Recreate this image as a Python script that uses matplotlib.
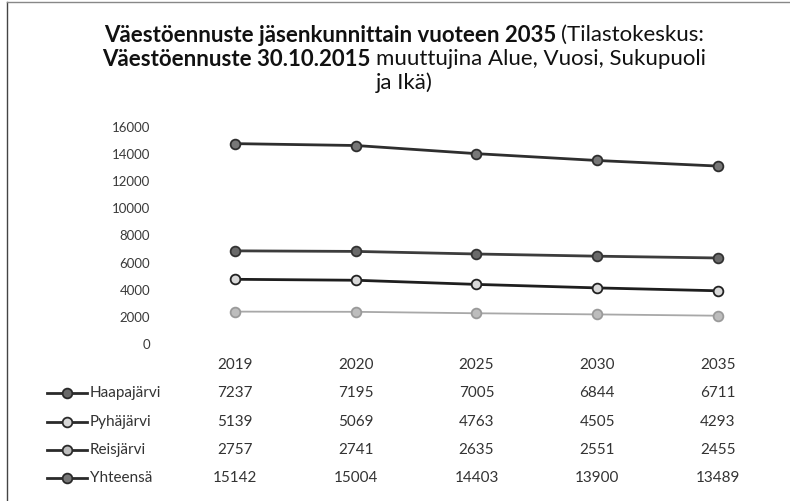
import matplotlib
matplotlib.use("Agg")
import matplotlib.pyplot as plt
import matplotlib.transforms as mtransforms
from matplotlib.lines import Line2D

# data
years = ["2019", "2020", "2025", "2030", "2035"]
series_names = ["Haapajärvi", "Pyhäjärvi", "Reisjärvi", "Yhteensä"]
haapajarvi = [7237, 7195, 7005, 6844, 6711]
pyhajarvi = [5139, 5069, 4763, 4505, 4293]
reisjarvi = [2757, 2741, 2635, 2551, 2455]
yhteensa = [15142, 15004, 14403, 13900, 13489]
y_ticks = [0, 2000, 4000, 6000, 8000, 10000, 12000, 14000, 16000]

title_lines = [
    [("Väestöennuste jäsenkunnittain vuoteen 2035", "bold"), ("(Tilastokeskus:", "normal")],
    [("Väestöennuste 30.10.2015", "bold"), ("muuttujina Alue, Vuosi, Sukupuoli", "normal")],
    [("ja Ikä)", "normal")],
]

plt.rcParams["font.family"] = ["Lato", "DejaVu Sans"]
W, H = 790, 501
fig = plt.figure(figsize=(W / 100, H / 100), dpi=100)
ax = fig.add_axes([175 / W, (H - 349) / H, 603 / W, 217 / H])

styles = {
    "Haapajärvi": dict(color="#3c3c3c", mfc="#6a6a6a", mec="#333333", lw=2.0),
    "Pyhäjärvi": dict(color="#1e1e1e", mfc="#d8d8d8", mec="#222222", lw=2.0),
    "Reisjärvi": dict(color="#a8a8a8", mfc="#bdbdbd", mec="#9a9a9a", lw=1.3),
    "Yhteensä": dict(color="#2e2e2e", mfc="#777777", mec="#2e2e2e", lw=2.0),
}
values = dict(zip(series_names, [haapajarvi, pyhajarvi, reisjarvi, yhteensa]))

x = list(range(len(years)))
for name in series_names:
    st = styles[name]
    ax.plot(x, values[name], color=st["color"], lw=st["lw"], marker="o", ms=7,
            mfc=st["mfc"], mec=st["mec"], mew=1.3, zorder=3)

ax.set_xlim(-0.5, len(years) - 0.5)
ax.set_ylim(0, 16000)
ax.set_xticks([])
ax.set_yticks(y_ticks)
ax.set_yticklabels([str(v) for v in y_ticks], fontsize=9.5, color="#3a3a3a")
ax.tick_params(axis="y", length=0, pad=18)
offset = mtransforms.ScaledTranslation(0, 5 / 100, fig.dpi_scale_trans)
for lbl in ax.get_yticklabels():
    lbl.set_transform(lbl.get_transform() + offset)
for sp in ax.spines.values():
    sp.set_visible(False)

# data table below the plot
blend = mtransforms.blended_transform_factory(ax.transData, fig.transFigure)
row_y = [365, 393, 422, 450, 478]
for i, yr in enumerate(years):
    fig.text(i, (H - row_y[0]) / H, yr, transform=blend, ha="center", va="center",
             fontsize=11, color="#333333")
for r, name in enumerate(series_names):
    yf = (H - row_y[r + 1]) / H
    for i, v in enumerate(values[name]):
        fig.text(i, yf, str(v), transform=blend, ha="center", va="center",
                 fontsize=11, color="#333333")
    fig.text(90 / W, yf, name, ha="left", va="center", fontsize=11, color="#333333")
    st = styles[name]
    key_color = "#2a2a2a"
    fig.add_artist(Line2D([47 / W, 87 / W], [yf, yf], color=key_color, lw=2.0,
                          transform=fig.transFigure))
    fig.add_artist(Line2D([67 / W], [yf], marker="o", ms=7, mfc=st["mfc"],
                          mec="#2a2a2a", mew=1.3, transform=fig.transFigure))

# chart frame (left and top edges as in the scan)
fig.add_artist(Line2D([7 / W, 7 / W], [0, (H - 2) / H], color="#444444", lw=1.0,
                      transform=fig.transFigure))
fig.add_artist(Line2D([7 / W, 1], [(H - 2) / H, (H - 2) / H], color="#888888", lw=1.0,
                      transform=fig.transFigure))

# title with mixed weights, each line centred
renderer = fig.canvas.get_renderer()
title_y = [35, 59, 83]
gap = 5
for parts, ty in zip(title_lines, title_y):
    texts = [fig.text(0, (H - ty) / H, s, fontsize=16, fontweight=w, color="#111111",
                      va="center", ha="left") for s, w in parts]
    widths = [t.get_window_extent(renderer).width for t in texts]
    xpos = 404 - (sum(widths) + gap * (len(widths) - 1)) / 2
    for t, wd in zip(texts, widths):
        t.set_x(xpos / W)
        xpos += wd + gap

fig.savefig("out.png", dpi=100)
